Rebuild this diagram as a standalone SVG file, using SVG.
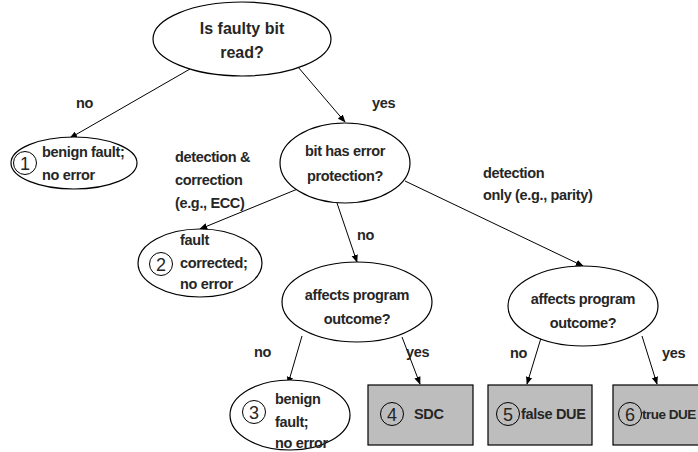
<svg xmlns="http://www.w3.org/2000/svg" width="698" height="452" viewBox="0 0 698 452">
<style>
.n{fill:#fff;stroke:#000;stroke-width:1.2}
.b{fill:#bdbdbd;stroke:#000;stroke-width:1.2}
.t{font-family:"Liberation Sans",Arial,sans-serif;font-weight:bold;font-size:14.5px;letter-spacing:-0.35px;fill:#262626}
.q{font-size:16px;letter-spacing:0}
.c{font-family:"Liberation Sans",Arial,sans-serif;font-size:18px;fill:#262626;text-anchor:middle}
.m{text-anchor:middle}
.k{fill:none;stroke:#000;stroke-width:1}
.e{fill:none;stroke:#000;stroke-width:1;marker-end:url(#a)}
</style>
<defs>
<marker id="a" viewBox="0 0 10 10" refX="9" refY="5" markerWidth="8" markerHeight="8" orient="auto" markerUnits="userSpaceOnUse">
<path d="M0,1 L10,5 L0,9 z" fill="#000"/>
</marker>
</defs>
<g id="connectors">
<line class="e" x1="190" y1="69" x2="70" y2="138"/>
<line class="e" x1="298" y1="67" x2="345" y2="122"/>
<line class="e" x1="300" y1="188" x2="200" y2="229"/>
<line class="e" x1="337" y1="203" x2="357" y2="262"/>
<line class="e" x1="405" y1="181" x2="583" y2="266"/>
<line class="e" x1="302" y1="336" x2="288" y2="384"/>
<line class="e" x1="402" y1="337" x2="420" y2="384"/>
<line class="e" x1="541" y1="338" x2="527" y2="384"/>
<line class="e" x1="642" y1="336" x2="657" y2="384"/>
</g>
<g id="labels">
<text class="t" x="76" y="108">no</text>
<text class="t" x="372" y="108">yes</text>
<text class="t" x="175" y="162">detection &amp;</text>
<text class="t" x="175" y="185">correction</text>
<text class="t" x="175" y="208">(e.g., ECC)</text>
<text class="t" x="483" y="178">detection</text>
<text class="t" x="483" y="200">only (e.g., parity)</text>
<text class="t" x="357" y="240">no</text>
<text class="t" x="254" y="357">no</text>
<text class="t" x="406" y="357">yes</text>
<text class="t" x="510" y="358">no</text>
<text class="t" x="662" y="358">yes</text>
</g>
<g id="q1">
<ellipse class="n" cx="242" cy="39" rx="89" ry="37"/>
<text class="t q m" x="242" y="34">Is faulty bit</text>
<text class="t q m" x="242" y="58">read?</text>
</g>
<g id="r1">
<ellipse class="n" cx="74" cy="163" rx="63" ry="26"/>
<circle class="k" cx="25" cy="163" r="11.5"/>
<text class="c" x="25" y="169.5">1</text>
<text class="t" x="42" y="157">benign fault;</text>
<text class="t" x="42" y="180">no error</text>
</g>
<g id="q2">
<ellipse class="n" cx="345" cy="163" rx="65" ry="40"/>
<text class="t m" x="345" y="156">bit has error</text>
<text class="t m" x="345" y="181">protection?</text>
</g>
<g id="r2">
<ellipse class="n" cx="200" cy="263" rx="62" ry="34"/>
<circle class="k" cx="161" cy="264" r="11.5"/>
<text class="c" x="161" y="270.5">2</text>
<text class="t" x="180" y="245">fault</text>
<text class="t" x="180" y="268">corrected;</text>
<text class="t" x="180" y="289">no error</text>
</g>
<g id="q3">
<ellipse class="n" cx="357" cy="302" rx="75" ry="40"/>
<text class="t m" x="357" y="300">affects program</text>
<text class="t m" x="357" y="324">outcome?</text>
</g>
<g id="q4">
<ellipse class="n" cx="583" cy="306" rx="75" ry="40"/>
<text class="t m" x="583" y="304">affects program</text>
<text class="t m" x="583" y="328">outcome?</text>
</g>
<g id="r3">
<ellipse class="n" cx="290" cy="415" rx="60" ry="35"/>
<circle class="k" cx="254" cy="412" r="11.5"/>
<text class="c" x="254" y="418.5">3</text>
<text class="t" x="275" y="404">benign</text>
<text class="t" x="275" y="427">fault;</text>
<text class="t" x="275" y="448">no error</text>
</g>
<g id="r4">
<rect class="b" x="368" y="385" width="105" height="60"/>
<circle class="k" cx="392" cy="414" r="11.5"/>
<text class="c" x="392" y="420.5">4</text>
<text class="t" x="414" y="419">SDC</text>
</g>
<g id="r5">
<rect class="b" x="488" y="385" width="104" height="60"/>
<circle class="k" cx="508" cy="414" r="11.5"/>
<text class="c" x="508" y="420.5">5</text>
<text class="t" x="521" y="419">false DUE</text>
</g>
<g id="r6">
<rect class="b" x="613" y="385" width="100" height="60"/>
<circle class="k" cx="630" cy="414" r="11.5"/>
<text class="c" x="630" y="420.5">6</text>
<text class="t" x="642" y="419" style="letter-spacing:-0.5px;font-size:13.5px">true DUE</text>
</g>
</svg>
